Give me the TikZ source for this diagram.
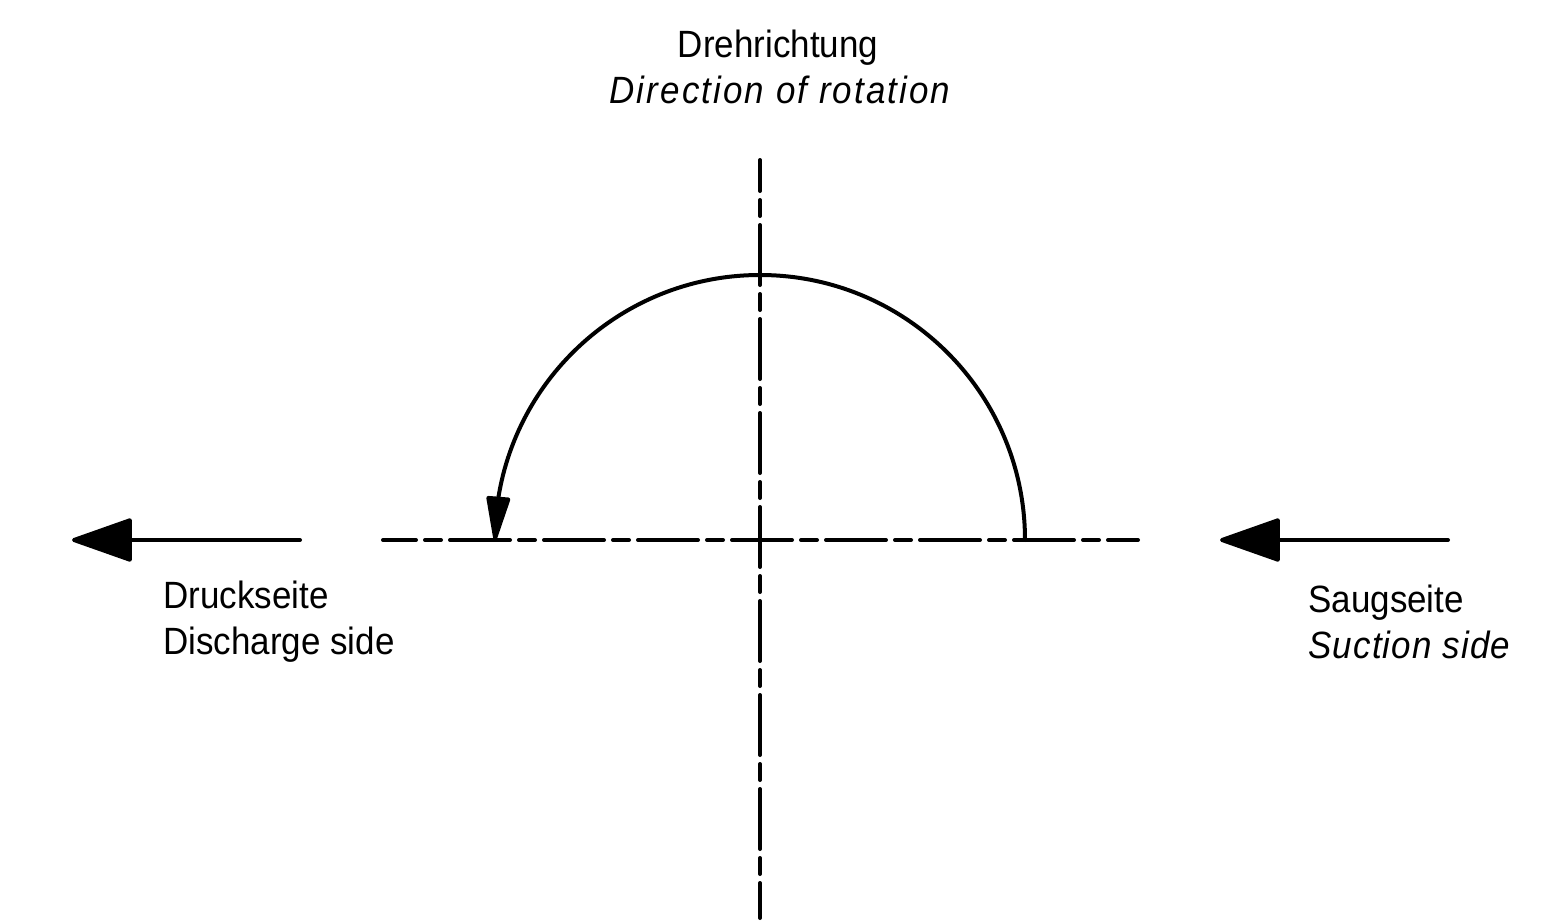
\documentclass[tikz,border=0pt]{standalone}
\usepackage{fontspec}
\setmainfont[FakeStretch=0.92]{Liberation Sans}
\usetikzlibrary{arrows.meta,bending}
\begin{document}
\begin{tikzpicture}[x=0.5pt,y=-0.5pt,
  every node/.style={inner sep=0pt,font=\fontsize{19pt}{23pt}\selectfont},
  thick line/.style={line width=2pt,line cap=round,line join=round},
  center line/.style={thick line,dash pattern=on 30pt off 4.5pt on 8pt off 4.5pt},
  big arrow/.style={thick line,-{Triangle[length=32pt,width=22pt,round]}},
  rot arrow/.style={thick line,-{Triangle[length=25pt,width=12pt,round]}}]
\useasboundingbox (0,0) rectangle (1558,921);
% center lines
\coordinate (vtop) at (760,160);
\coordinate (vbot) at (760,918);
\coordinate (hl) at (383,540);
\coordinate (hr) at (1138,540);
\draw[center line,dash phase=14.5pt] (vtop) -- (vbot);
\draw[center line,dash phase=13.5pt] (hl) -- (hr);
% rotation arc
\coordinate (arcstart) at (1025,540);
\draw[rot arrow] (arcstart) arc[start angle=0,end angle=-180,radius=265];
% side arrows
\coordinate (ls) at (300,540);
\coordinate (le) at (72,540);
\coordinate (rs) at (1448,540);
\coordinate (re) at (1220,540);
\draw[big arrow] (ls) -- (le);
\draw[big arrow] (rs) -- (re);
% labels
\node[anchor=base] (t1) at (778,57) {Drehrichtung};
\node[anchor=base] (t2) at (780,103) {\itshape\addfontfeature{LetterSpace=5.5}Direction of rotation};
\node[anchor=base west] (l1) at (163,608) {Druckseite};
\node[anchor=base west] (l2) at (163,654) {Discharge side};
\node[anchor=base west] (r1) at (1308,612) {Saugseite};
\node[anchor=base west] (r2) at (1308,658) {\itshape\addfontfeature{LetterSpace=3}Suction side};
\end{tikzpicture}
\end{document}
